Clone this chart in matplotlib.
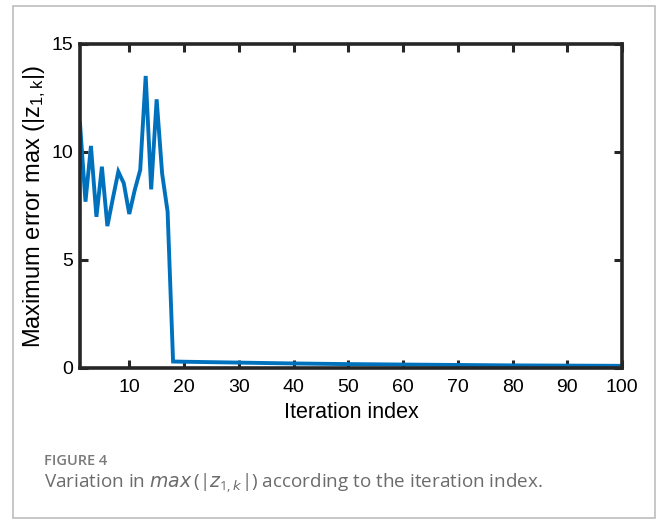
import matplotlib
matplotlib.use("Agg")
from matplotlib import pyplot as plt
from matplotlib.patches import Rectangle

# iteration index and max(|z1,k|) per iteration
iters = [1, 2, 3, 4, 5, 6, 7, 8, 9, 10, 11, 12, 13, 14, 15, 16, 17, 18,
         20, 30, 40, 50, 60, 70, 80, 90, 100]
max_err = [11.33, 7.7, 10.28, 7.0, 9.32, 6.57, 7.85, 9.09, 8.55, 7.13, 8.24, 9.17,
           13.52, 8.27, 12.44, 9.0, 7.24, 0.30,
           0.29, 0.25, 0.21, 0.18, 0.16, 0.14, 0.12, 0.11, 0.10]

x_ticks = [10, 20, 30, 40, 50, 60, 70, 80, 90, 100]
y_ticks = [0, 5, 10, 15]

plt.rcParams["mathtext.default"] = "regular"
sans = ["Liberation Sans", "DejaVu Sans"]
cap_font = ["Open Sans", "DejaVu Sans"]

fig = plt.figure(figsize=(6.56, 5.2), dpi=100)

# light frame around the whole figure
fig.patches.append(Rectangle((13 / 656, 2 / 520), 642 / 656, 512 / 520,
                             transform=fig.transFigure, fill=False,
                             edgecolor="#bdbdbd", linewidth=1.2))

ax = fig.add_axes([80 / 656, 152 / 520, 542 / 656, 324 / 520])
ax.plot(iters, max_err, color="#0072BD", linewidth=2.8, solid_joinstyle="miter")

ax.set_xlim(1, 100)
ax.set_ylim(0, 15)
ax.set_xticks(x_ticks)
ax.set_yticks(y_ticks)
ax.tick_params(direction="in", length=6, width=2.2, top=True, right=True,
               color="#262626")
ax.tick_params(axis="x", pad=8)
ax.tick_params(axis="y", pad=5)
for lab in ax.get_xticklabels() + ax.get_yticklabels():
    lab.set_family(sans)
    lab.set_fontsize(14)
for s in ax.spines.values():
    s.set_linewidth(2.6)
    s.set_color("#262626")

ax.set_xlabel("Iteration index", family=sans, fontsize=15.5, labelpad=4)
ax.set_ylabel("Maximum error max (|z$_{1,k}$|)", family=sans, fontsize=17)
ax.yaxis.set_label_coords(-0.059, 0.5)

fig.text(44 / 656, 1 - 461 / 520, "FIGURE 4", family=cap_font,
         fontsize=10.5, fontweight="semibold", color="#7a7a7a", va="center")
fig.text(44 / 656, 1 - 483 / 520,
         r"Variation in $\mathit{max}\,(|\mathit{z}_{1,\mathit{k}}|)$ according to the iteration index.",
         family=cap_font, fontsize=13.6, color="#6b6b6b", va="center")

fig.savefig("out.png", dpi=100, facecolor="white")
